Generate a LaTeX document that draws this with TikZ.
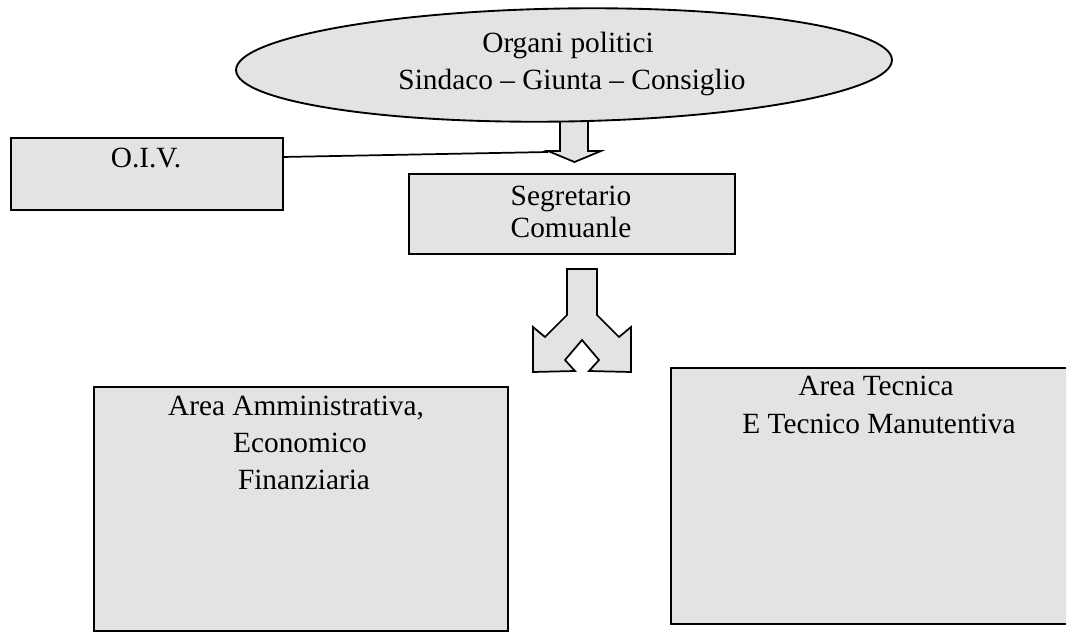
\documentclass[tikz,border=0pt]{standalone}
\usepackage{fontspec}
\setmainfont{Liberation Serif}
\usetikzlibrary{shapes.geometric}
\definecolor{stip}{gray}{0.89}
\tikzset{
  box/.style={draw=black, line width=1.4pt, fill=stip, inner sep=0pt, anchor=north west},
  lbl/.style={anchor=base, inner sep=0pt, font=\fontsize{22}{26}\selectfont},
  blockarrow/.style={draw=black, line width=1.3pt, fill=stip, line join=miter},
  conn/.style={draw=black, line width=1.3pt},
}
\begin{document}
\begin{tikzpicture}[x=0.75pt,y=-0.75pt]
\useasboundingbox (0,0) rectangle (1066,632);
\clip (0,0) rectangle (1066,632);

% down block arrow (under the ellipse)
\draw[blockarrow] (560,112) -- (560,151) -- (548,151) -- (574.5,162) -- (601,151) -- (588,151) -- (588,112) -- cycle;

% ellipse
\node[ellipse, draw=black, line width=1.4pt, fill=stip, inner sep=0pt,
      minimum width=492pt, minimum height=84.75pt, rotate=0.9] (org) at (564,65) {};
\node[lbl] (orgA) at (568,52) {Organi politici};
\node[lbl] (orgB) at (572,89) {Sindaco – Giunta – Consiglio};

% O.I.V.
\node[box, minimum width=204pt, minimum height=54pt] (oiv) at (10,137) {};
\node[lbl] (oivT) at (146,167) {O.I.V.};
\coordinate (oivOut) at (282,157);
\coordinate (wing) at (548,152);
\draw[conn] (oivOut) -- (wing);

% Segretario
\node[box, minimum width=244.5pt, minimum height=60pt] (seg) at (408,173) {};
\node[lbl] (segA) at (571,205) {Segretario};
\node[lbl] (segB) at (571,237) {Comuanle};

% split arrow
\draw[blockarrow] (567,269) -- (567,315) -- (545,337) -- (533,327) -- (533,372)
  -- (575,371) -- (565,360) -- (582,340) -- (599,360) -- (589,371) -- (631,372)
  -- (631,327) -- (619,337) -- (597,315) -- (597,269) -- cycle;

% left area
\node[box, minimum width=310.5pt, minimum height=183pt] (amm) at (93,386) {};
\node[lbl] (ammA) at (296,415) {Area Amministrativa,};
\node[lbl] (ammB) at (300,452) {Economico};
\node[lbl] (ammC) at (304,489) {Finanziaria};

% right area
\node[box, minimum width=315pt, minimum height=192pt] (tec) at (670,367) {};
\node[lbl] (tecA) at (876,395) {Area Tecnica};
\node[lbl] (tecB) at (879,433) {E Tecnico Manutentiva};
\end{tikzpicture}
\end{document}
